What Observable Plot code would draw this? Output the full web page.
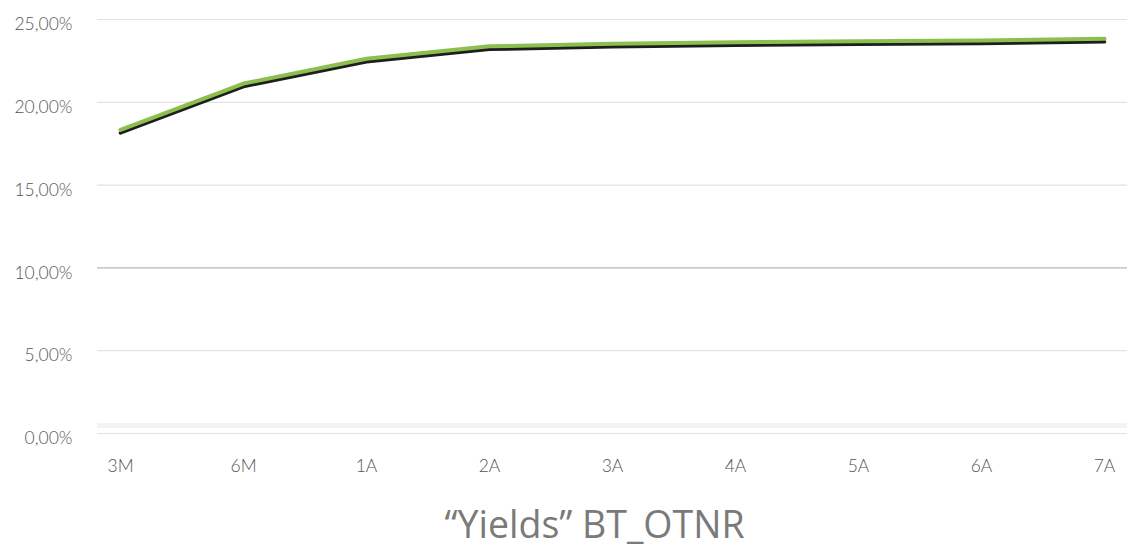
<!DOCTYPE html>
<html>
<head>
<meta charset="utf-8">
<script src="https://cdn.jsdelivr.net/npm/d3@7"></script>
<script src="https://cdn.jsdelivr.net/npm/@observablehq/plot@0.6"></script>
<style>
  html, body { margin: 0; padding: 0; background: #fff; }
  #chart { width: 1127px; }
  #title { font-family: "Open Sans", sans-serif; font-size: 37.5px; color: #7a7a7a; text-align: center; width: 1127px; line-height: 44px; margin-top: 22px; padding-left: 62px; box-sizing: border-box; }
</style>
</head>
<body>
<div id="chart"></div>
<div id="title">“Yields” BT_OTNR</div>
<script>
const maturities = ["3M", "6M", "1A", "2A", "3A", "4A", "5A", "6A", "7A"];
const yields = [18.3, 21.1, 22.6, 23.35, 23.5, 23.6, 23.65, 23.7, 23.8];
const yTicks = [0, 5, 10, 15, 20, 25];
const title = "“Yields” BT_OTNR";

const data = maturities.map((m, i) => ({ m, y: yields[i] }));
const fmt = d => d.toFixed(2).replace(".", ",") + "%";

const plot = Plot.plot({
  width: 1127,
  height: 480,
  marginLeft: 97,
  marginRight: 0,
  marginTop: 19,
  marginBottom: 47,
  style: { fontFamily: "Lato, sans-serif", fontSize: "17.5px", color: "#555", background: "#fff" },
  x: { type: "point", domain: maturities, padding: 0.17, label: null },
  y: { domain: [0, 25], label: null },
  marks: [
    Plot.ruleY([0], { stroke: "#f3f3f3", strokeWidth: 5, dy: -8 }),
    Plot.ruleY(yTicks.filter(t => t !== 10), { stroke: "#e2e2e2", strokeWidth: 1.2 }),
    Plot.ruleY([10], { stroke: "#b8b8b8", strokeWidth: 1.2 }),
    Plot.axisY({ ticks: yTicks, tickFormat: fmt, tickSize: 0, tickPadding: 25, dy: 5, fontWeight: 300, fill: "#555" }),
    Plot.axisX({ tickSize: 0, tickPadding: 26, fontWeight: 300, fill: "#555" }),
    Plot.line(data, { x: "m", y: "y", stroke: "#1e1e1e", strokeWidth: 3.5, dy: 2.5, strokeLinecap: "round" }),
    Plot.line(data, { x: "m", y: "y", stroke: "#8dbf4e", strokeWidth: 4, dy: -0.5, strokeLinecap: "round" })
  ]
});
document.getElementById("chart").appendChild(plot);
</script>
</body>
</html>
